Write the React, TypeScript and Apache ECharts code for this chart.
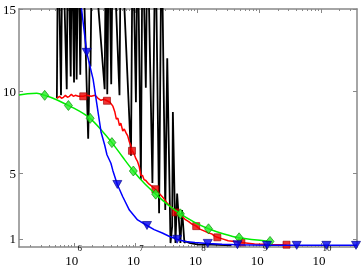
import React, { useEffect, useRef } from "react";
import * as echarts from "echarts";

// x values stored as log10(N); y values as read
const blackLine: [number, number][] = [
  [5.725, 9.56], [5.744, 20], [5.792, 9.74], [5.816, 20], [5.885, 10.11], [5.904, 20],
  [5.949, 10.89], [5.968, 20], [6.003, 10.53], [6.024, 20], [6.045, 10.71], [6.072, 20],
  [6.104, 11.0], [6.136, 20], [6.232, 7.09], [6.256, 11.8], [6.27, 11.5], [6.296, 20],
  [6.499, 10.11], [6.52, 20], [6.541, 9.8], [6.568, 20], [6.605, 10.41], [6.632, 20],
  [6.739, 9.74], [6.76, 20], [6.925, 6.06], [6.952, 20], [7.005, 9.32], [7.032, 20],
  [7.085, 4.6], [7.112, 20], [7.165, 10.2], [7.192, 20], [7.272, 4.4], [7.32, 20],
  [7.38, 2.55], [7.42, 20], [7.48, 2.75], [7.512, 12], [7.565, 0.74], [7.592, 1.75],
  [7.603, 8.72], [7.645, 0.74], [7.672, 3.76], [7.725, 0.74], [7.752, 2.75], [7.79, 0.74],
  [7.805, 0.84], [7.885, 0.74], [8.019, 0.64], [8.232, 0.64], [8.552, 0.6],
];

const redLine: [number, number][] = [
  [5.725, 9.56], [5.768, 9.68], [5.8, 9.56], [5.832, 9.62], [5.864, 9.74], [5.896, 9.62],
  [5.928, 9.68], [5.96, 9.8], [5.992, 9.68], [6.024, 9.74], [6.072, 9.68], [6.152, 9.68],
  [6.216, 9.74], [6.28, 9.68], [6.344, 9.74], [6.392, 9.56], [6.44, 9.44], [6.488, 9.5],
  [6.536, 9.41], [6.584, 9.32], [6.632, 9.08], [6.664, 8.72], [6.688, 8.29], [6.712, 8.35],
  [6.739, 7.89], [6.76, 8.05], [6.792, 7.57], [6.816, 7.69], [6.845, 7.45], [6.872, 7.27],
  [6.899, 6.9], [6.92, 6.72], [6.941, 6.36], [6.968, 6.24], [7.005, 5.88], [7.032, 5.7],
  [7.059, 5.39], [7.085, 4.87], [7.112, 4.85], [7.136, 4.61], [7.165, 4.55], [7.192, 4.43],
  [7.224, 4.31], [7.272, 4.17], [7.32, 4.02], [7.352, 3.88], [7.384, 3.76], [7.432, 3.56],
  [7.48, 3.34], [7.512, 3.16], [7.565, 2.96], [7.608, 2.8], [7.648, 2.61], [7.699, 2.55],
  [7.752, 2.37], [7.8, 2.19], [7.859, 2.05], [7.912, 1.89], [7.981, 1.77], [8.04, 1.59],
  [8.125, 1.45], [8.184, 1.35], [8.232, 1.3], [8.28, 1.16], [8.323, 1.09], [8.392, 1.01],
  [8.499, 0.88], [8.6, 0.83], [8.712, 0.78], [8.925, 0.68], [9.192, 0.65], [9.443, 0.64],
];
const redMarkers: [number, number][] = [
  [6.152, 9.68], [6.536, 9.41], [6.941, 6.36], [7.32, 4.02], [7.648, 2.61],
  [7.981, 1.77], [8.323, 1.09], [8.712, 0.78], [9.443, 0.64],
];

const greenLine: [number, number][] = [
  [5.112, 9.76], [5.25, 9.83], [5.4, 9.86], [5.528, 9.74], [5.72, 9.47], [5.912, 9.12],
  [6.09, 8.78], [6.264, 8.34], [6.44, 7.65], [6.616, 6.86], [6.79, 5.98], [6.963, 5.13],
  [7.14, 4.38], [7.325, 3.72], [7.52, 3.08], [7.725, 2.52], [7.95, 2.02], [8.18, 1.61],
  [8.43, 1.29], [8.675, 1.06], [9.176, 0.84],
];
const greenMarkers: [number, number][] = [
  [5.528, 9.74], [5.912, 9.12], [6.264, 8.34], [6.616, 6.86], [6.963, 5.13],
  [7.325, 3.72], [7.725, 2.52], [8.18, 1.61], [8.675, 1.06], [9.176, 0.84],
];

const blueLine: [number, number][] = [
  [6.093, 16], [6.208, 12.36], [6.312, 10.71], [6.44, 7.51], [6.5, 6.7], [6.536, 6.12],
  [6.6, 5.6], [6.632, 5.15], [6.704, 4.31], [6.792, 3.56], [6.899, 2.75], [7.032, 2.15],
  [7.184, 1.81], [7.3, 1.56], [7.432, 1.35], [7.55, 1.14], [7.672, 0.97], [7.8, 0.84],
  [7.96, 0.77], [8.168, 0.72], [8.4, 0.67], [8.648, 0.64], [9.128, 0.6], [10.584, 0.6],
];
const blueMarkers: [number, number][] = [
  [6.208, 12.36], [6.704, 4.31], [7.184, 1.81], [7.672, 0.97], [8.168, 0.72],
  [8.648, 0.64], [9.128, 0.6], [9.608, 0.6], [10.088, 0.6], [10.568, 0.6],
];

const xMinExp = 5.112;
const xMaxExp = 10.584;
const yTicks = [1, 5, 10, 15];
const xMajorExps = [6, 7, 8, 9, 10];

const FONT = "Liberation Serif";
const AXIS_COLOR = "#888888";

const toXY = (pts: [number, number][]) => pts.map(([e, y]) => [Math.pow(10, e), y]);

export default function App() {
  const ref = useRef<HTMLDivElement>(null);
  useEffect(() => {
    if (!ref.current) return;
    const chart = echarts.init(ref.current, undefined, { renderer: "svg" });
    const xMin = Math.pow(10, xMinExp);
    const xMax = Math.pow(10, xMaxExp);
    const majors = xMajorExps.map((e) => Math.pow(10, e));
    const minors: number[] = [];
    for (let n = 5; n <= 10; n++) {
      for (let k = 2; k <= 9; k++) {
        const v = k * Math.pow(10, n);
        if (v > xMin && v < xMax) minors.push(v);
      }
    }
    const baseX = (
      position: "top" | "bottom",
      ticks: number[],
      len: number,
      showLine: boolean,
      label: any
    ) => ({
      type: "log" as const,
      logBase: 10,
      position,
      min: xMin,
      max: xMax,
      axisLine: { show: showLine, lineStyle: { color: AXIS_COLOR, width: 1.5 } },
      axisTick: {
        show: len > 0, inside: true, length: len, customValues: ticks,
        lineStyle: { color: AXIS_COLOR, width: 1 },
      },
      axisLabel: label || { show: false },
      splitLine: { show: false },
      minorTick: { show: false },
    });
    const baseLabel = {
      show: true,
      customValues: majors,
      margin: 7,
      color: "#000",
      fontFamily: FONT,
      formatter: () => "{b|10}{h|}",
      rich: {
        b: { fontFamily: FONT, fontSize: 13, lineHeight: 13, color: "#000" },
        h: { width: 4, fontSize: 13, lineHeight: 13 },
      },
    };
    const expLabel = {
      show: true,
      customValues: majors,
      margin: -4,
      color: "#000",
      fontFamily: FONT,
      formatter: (v: number) => `{h|}{s|${Math.round(Math.log10(v))}}`,
      rich: {
        h: { width: 12, fontSize: 9, lineHeight: 9 },
        s: { fontFamily: FONT, fontSize: 9, lineHeight: 9, color: "#000" },
      },
    };
    const baseY = (position: "left" | "right", showLabel: boolean) => ({
      type: "value" as const,
      position,
      min: 0.5,
      max: 15,
      axisLine: { show: true, lineStyle: { color: AXIS_COLOR, width: 1.5 } },
      axisTick: { show: true, inside: true, length: 4, customValues: yTicks, lineStyle: { color: AXIS_COLOR, width: 1 } },
      axisLabel: showLabel
        ? { show: true, customValues: yTicks, margin: 3, color: "#000", fontFamily: FONT, fontSize: 13 }
        : { show: false },
      splitLine: { show: false },
    });
    chart.setOption({
      animation: false,
      grid: { left: 15, right: 5, top: 9, bottom: 18, containLabel: false },
      xAxis: [
        baseX("bottom", majors, 4, true, baseLabel),
        baseX("bottom", minors, 2, false, null),
        baseX("bottom", majors, 0, false, expLabel),
        baseX("top", majors, 4, true, null),
        baseX("top", minors, 2, false, null),
      ],
      yAxis: [baseY("left", true), baseY("right", false)],
      series: [
        {
          type: "line", data: toXY(blackLine), showSymbol: false, symbol: "none",
          lineStyle: { color: "#000000", width: 1.8 }, clip: true, z: 1,
        },
        {
          type: "line", data: toXY(redLine), showSymbol: false, symbol: "none",
          lineStyle: { color: "#ff0000", width: 1.5 }, clip: true, z: 2,
        },
        {
          type: "scatter", data: toXY(redMarkers), symbol: "rect", symbolSize: 7,
          itemStyle: { color: "#ee0000", borderColor: "#990000", borderWidth: 0.8 }, z: 3,
        },
        {
          type: "line", data: toXY(greenLine), showSymbol: false, symbol: "none", smooth: 0.3,
          lineStyle: { color: "#00ee00", width: 1.5 }, clip: true, z: 4,
        },
        {
          type: "scatter", data: toXY(greenMarkers), symbol: "diamond", symbolSize: [8, 10],
          itemStyle: { color: "#22ee22", borderColor: "#008800", borderWidth: 0.8 }, z: 5,
        },
        {
          type: "line", data: toXY(blueLine), showSymbol: false, symbol: "none",
          lineStyle: { color: "#0000ff", width: 1.5 }, clip: true, z: 6,
        },
        {
          type: "scatter", data: toXY(blueMarkers), symbol: "triangle", symbolRotate: 180, symbolSize: [9, 8],
          itemStyle: { color: "#0000ee", borderColor: "#000088", borderWidth: 0.8 }, z: 7,
        },
      ],
    });
    return () => chart.dispose();
  }, []);
  return <div ref={ref} style={{ position: "fixed", left: 0, top: 0, width: 362, height: 267 }} />;
}
